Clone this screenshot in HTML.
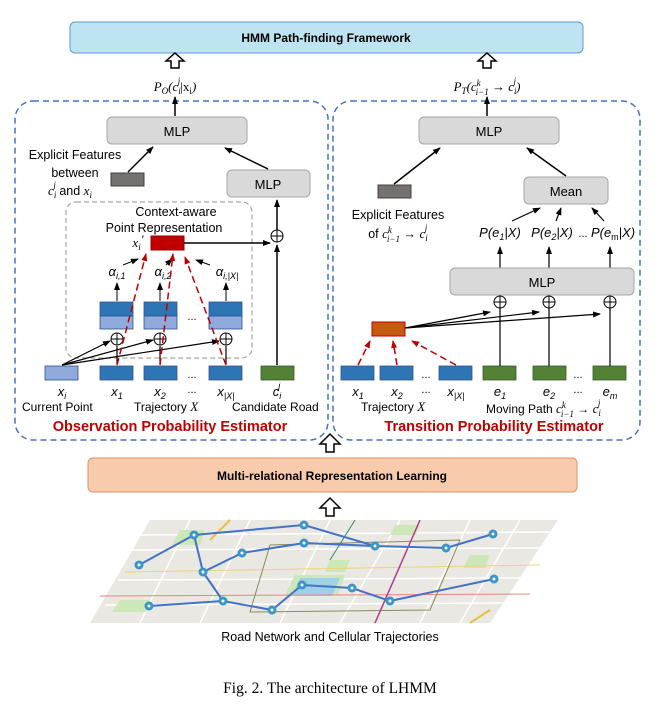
<!DOCTYPE html>
<html><head><meta charset="utf-8"><style>
body{margin:0;background:#fff;width:670px;height:709px;overflow:hidden}
svg{display:block}
text{font-family:"Liberation Sans",sans-serif}
.m{font-family:"Liberation Serif",serif;font-style:italic}
</style></head><body>
<svg width="670" height="709" viewBox="0 0 670 709" xmlns="http://www.w3.org/2000/svg">
<defs>
<marker id="a" markerWidth="8" markerHeight="8" refX="7" refY="4" orient="auto" markerUnits="userSpaceOnUse"><path d="M0,1 L8,4 L0,7 z" fill="#000"/></marker>
<marker id="r" markerWidth="8" markerHeight="8" refX="7" refY="4" orient="auto" markerUnits="userSpaceOnUse"><path d="M0,1 L8,4 L0,7 z" fill="#c00000"/></marker>
</defs>
<rect x="70" y="22" width="513" height="31" rx="5" fill="#bee3f1" stroke="#5b9bd5" stroke-width="1"/>
<text x="326" y="42" font-size="12" font-weight="bold" text-anchor="middle">HMM Path-finding Framework</text>
<g fill="#fff" stroke="#000" stroke-width="1.5">
<path d="M171,68 V61 H166 L175,53 L184,61 H179 V68 Z"/>
<path d="M483,68 V61 H478 L487,53 L496,61 H491 V68 Z"/>
<path d="M326,452 V444 H320 L330,434 L340,444 H334 V452 Z"/>
<path d="M326,516 V508 H320 L330,498 L340,508 H334 V516 Z"/>
</g>
<text x="175" y="91" font-size="13" text-anchor="middle" class="m">P<tspan font-size="9" dy="3">O</tspan><tspan dy="-3">(c</tspan><tspan font-size="9" dy="3">i</tspan><tspan font-size="9" dx="-3" dy="-10">j</tspan><tspan dy="7" font-style="normal">|x</tspan><tspan font-size="9" dy="3" font-style="normal">i</tspan><tspan dy="-3">)</tspan></text>
<text x="487" y="91" font-size="13" text-anchor="middle" class="m">P<tspan font-size="9" dy="3">T</tspan><tspan dy="-3">(c</tspan><tspan font-size="9" dy="-5">k</tspan><tspan font-size="9" dx="-5" dy="9">i−1</tspan><tspan dy="-4"> → c</tspan><tspan font-size="9" dy="3">i</tspan><tspan font-size="9" dx="-3" dy="-10">j</tspan><tspan dy="7">)</tspan></text>
<rect x="15" y="101" width="313" height="339" rx="18" fill="none" stroke="#4472c4" stroke-width="1.5" stroke-dasharray="6,4"/>
<rect x="333" y="101" width="307" height="339" rx="18" fill="none" stroke="#4472c4" stroke-width="1.5" stroke-dasharray="6,4"/>
<line x1="175" y1="116" x2="175" y2="97" stroke="#000" stroke-width="1.5" marker-end="url(#a)"/>
<line x1="487" y1="116" x2="487" y2="97" stroke="#000" stroke-width="1.5" marker-end="url(#a)"/>
<rect x="107" y="117" width="140" height="27" rx="5" fill="#d9d9d9" stroke="#a6a6a6"/>
<text x="177" y="136" font-size="13" text-anchor="middle">MLP</text>
<text x="75" y="159" font-size="12.5" text-anchor="middle">Explicit Features</text>
<text x="75" y="177" font-size="12.5" text-anchor="middle">between</text>
<text x="70" y="195" font-size="12.5" text-anchor="middle"><tspan class="m" font-size="13">c</tspan><tspan class="m" font-size="9" dy="3">i</tspan><tspan class="m" font-size="9" dx="-3" dy="-10">j</tspan><tspan dy="7"> and </tspan><tspan class="m" font-size="13">x</tspan><tspan class="m" font-size="9" dy="3">i</tspan></text>
<rect x="111" y="173" width="33" height="13" fill="#767171" stroke="#404040"/>
<line x1="128" y1="172" x2="153" y2="147" stroke="#000" stroke-width="1.5" marker-end="url(#a)"/>
<rect x="227" y="170" width="83" height="27" rx="5" fill="#d9d9d9" stroke="#a6a6a6"/>
<text x="268" y="189" font-size="13" text-anchor="middle">MLP</text>
<line x1="268" y1="169" x2="225" y2="148" stroke="#000" stroke-width="1.5" marker-end="url(#a)"/>
<rect x="66" y="202" width="186" height="156" rx="10" fill="none" stroke="#a6a6a6" stroke-width="1.2" stroke-dasharray="5,3"/>
<text x="176" y="216" font-size="12.5" text-anchor="middle">Context-aware</text>
<text x="164" y="232" font-size="12.5" text-anchor="middle">Point Representation</text>
<text x="138" y="247" font-size="13" class="m" text-anchor="middle">x<tspan font-size="9" dy="3">i</tspan><tspan dy="-6">′</tspan></text>
<rect x="151" y="236" width="33" height="14" fill="#c00000" stroke="#900"/>
<line x1="184" y1="243" x2="270" y2="243" stroke="#000" stroke-width="1.5" marker-end="url(#a)"/>
<g fill="#fff" stroke="#000" stroke-width="1">
<circle cx="277" cy="236" r="6"/><circle cx="117" cy="339" r="6"/><circle cx="160" cy="339" r="6"/><circle cx="226" cy="339" r="6"/>
<circle cx="500" cy="302" r="6"/><circle cx="549" cy="302" r="6"/><circle cx="610" cy="302" r="6"/>
</g>
<g stroke="#000" stroke-width="1">
<path d="M271,236h12M277,230v12M111,339h12M117,333v12M154,339h12M160,333v12M220,339h12M226,333v12"/>
<path d="M494,302h12M500,296v12M543,302h12M549,296v12M604,302h12M610,296v12"/>
</g>
<line x1="277" y1="365" x2="277" y2="245" stroke="#000" stroke-width="1.5" marker-end="url(#a)"/>
<line x1="277" y1="230" x2="277" y2="200" stroke="#000" stroke-width="1.5" marker-end="url(#a)"/>
<g font-size="13" class="m" text-anchor="middle">
<text x="117" y="276">α<tspan font-size="9" dy="3">i,1</tspan></text>
<text x="163" y="276">α<tspan font-size="9" dy="3">i,2</tspan></text>
<text x="227" y="276">α<tspan font-size="9" dy="3">i,|X|</tspan></text>
</g>
<g stroke="#000" stroke-width="1">
<line x1="123" y1="265" x2="138" y2="259" marker-end="url(#a)"/>
<line x1="166" y1="265" x2="172" y2="259" marker-end="url(#a)"/>
<line x1="210" y1="265" x2="196" y2="260" marker-end="url(#a)"/>
<line x1="117" y1="301" x2="117" y2="283" marker-end="url(#a)"/>
<line x1="160" y1="301" x2="160" y2="283" marker-end="url(#a)"/>
<line x1="226" y1="301" x2="226" y2="283" marker-end="url(#a)"/>
</g>
<g stroke="#2f528f" stroke-width="0.8">
<rect x="100" y="302" width="33" height="14" fill="#2e75b6"/><rect x="100" y="316" width="33" height="13" fill="#8faadc"/>
<rect x="144" y="302" width="33" height="14" fill="#2e75b6"/><rect x="144" y="316" width="33" height="13" fill="#8faadc"/>
<rect x="209" y="302" width="33" height="14" fill="#2e75b6"/><rect x="209" y="316" width="33" height="13" fill="#8faadc"/>
</g>
<text x="192" y="320" font-size="11" text-anchor="middle">...</text>
<g stroke="#000" stroke-width="1.2">
<line x1="117" y1="364" x2="117" y2="346"/><line x1="160" y1="364" x2="160" y2="346"/><line x1="226" y1="364" x2="226" y2="346"/>
<line x1="62" y1="365" x2="110" y2="341" marker-end="url(#a)"/>
<line x1="62" y1="365" x2="153" y2="340" marker-end="url(#a)"/>
<line x1="62" y1="365" x2="219" y2="341" marker-end="url(#a)"/>
</g>
<g stroke="#c00000" stroke-width="1.5" stroke-dasharray="7,4">
<line x1="117" y1="365" x2="146" y2="254" marker-end="url(#r)"/>
<line x1="160" y1="365" x2="173" y2="254" marker-end="url(#r)"/>
<line x1="226" y1="365" x2="185" y2="257" marker-end="url(#r)"/>
</g>
<rect x="45" y="366" width="33" height="14" fill="#8faadc" stroke="#2f528f" stroke-width="0.8"/>
<g fill="#2e75b6" stroke="#2f528f" stroke-width="0.8">
<rect x="100" y="366" width="33" height="14"/><rect x="144" y="366" width="33" height="14"/><rect x="209" y="366" width="33" height="14"/>
<rect x="341" y="366" width="33" height="14"/><rect x="380" y="366" width="33" height="14"/><rect x="439" y="366" width="33" height="14"/>
</g>
<g fill="#548235" stroke="#385723" stroke-width="0.8">
<rect x="261" y="366" width="33" height="14"/>
<rect x="483" y="366" width="33" height="14"/><rect x="533" y="366" width="33" height="14"/><rect x="593" y="366" width="33" height="14"/>
</g>
<text x="192" y="378" font-size="11" text-anchor="middle">...</text>
<g font-size="13" class="m" text-anchor="middle">
<text x="62" y="396">x<tspan font-size="9" dy="3">i</tspan></text>
<text x="117" y="396">x<tspan font-size="9" dy="3">1</tspan></text>
<text x="160" y="396">x<tspan font-size="9" dy="3">2</tspan></text>
<text x="192" y="393" font-style="normal" font-size="11">...</text>
<text x="226" y="396">x<tspan font-size="9" dy="3">|X|</tspan></text>
<text x="277" y="396">c<tspan font-size="9" dy="3">i</tspan><tspan font-size="9" dx="-3" dy="-10">j</tspan></text>
</g>
<g font-size="12">
<text x="22" y="411">Current Point</text>
<text x="134" y="411">Trajectory <tspan class="m" font-size="13">X</tspan></text>
<text x="232" y="411">Candidate Road</text>
</g>
<text x="170" y="431" font-size="14.5" font-weight="bold" fill="#c00000" text-anchor="middle">Observation Probability Estimator</text>
<rect x="419" y="117" width="140" height="27" rx="5" fill="#d9d9d9" stroke="#a6a6a6"/>
<text x="489" y="136" font-size="13" text-anchor="middle">MLP</text>
<rect x="378" y="185" width="33" height="13" fill="#767171" stroke="#404040"/>
<line x1="394" y1="184" x2="440" y2="148" stroke="#000" stroke-width="1.5" marker-end="url(#a)"/>
<rect x="524" y="177" width="84" height="27" rx="5" fill="#d9d9d9" stroke="#a6a6a6"/>
<text x="566" y="196" font-size="13" text-anchor="middle">Mean</text>
<line x1="566" y1="176" x2="527" y2="148" stroke="#000" stroke-width="1.5" marker-end="url(#a)"/>
<text x="398" y="219" font-size="12.5" text-anchor="middle">Explicit Features</text>
<text x="398" y="238" font-size="12.5" text-anchor="middle">of <tspan class="m" font-size="13">c</tspan><tspan class="m" font-size="9" dy="-5">k</tspan><tspan class="m" font-size="9" dx="-5" dy="9">i−1</tspan><tspan dy="-4"> → </tspan><tspan class="m" font-size="13">c</tspan><tspan class="m" font-size="9" dy="3">i</tspan><tspan class="m" font-size="9" dx="-3" dy="-10">j</tspan></text>
<g font-size="13" class="m" text-anchor="middle">
<text x="500" y="237">P(e<tspan font-size="9" dy="3">1</tspan><tspan dy="-3">|X)</tspan></text>
<text x="552" y="237">P(e<tspan font-size="9" dy="3">2</tspan><tspan dy="-3">|X)</tspan></text>
<text x="583" y="237" font-style="normal" font-size="11">...</text>
<text x="613" y="237">P(e<tspan font-size="9" dy="3" font-style="normal">m</tspan><tspan dy="-3">|X)</tspan></text>
</g>
<g stroke="#000" stroke-width="1.2">
<line x1="512" y1="221" x2="540" y2="208" marker-end="url(#a)"/>
<line x1="556" y1="221" x2="561" y2="208" marker-end="url(#a)"/>
<line x1="604" y1="221" x2="592" y2="208" marker-end="url(#a)"/>
<line x1="500" y1="268" x2="500" y2="247" marker-end="url(#a)"/>
<line x1="549" y1="268" x2="549" y2="247" marker-end="url(#a)"/>
<line x1="610" y1="268" x2="610" y2="247" marker-end="url(#a)"/>
</g>
<rect x="450" y="268" width="184" height="27" rx="5" fill="#d9d9d9" stroke="#a6a6a6"/>
<text x="542" y="287" font-size="13" text-anchor="middle">MLP</text>
<g stroke="#000" stroke-width="1.2">
<line x1="500" y1="366" x2="500" y2="308"/><line x1="549" y1="366" x2="549" y2="308"/><line x1="610" y1="366" x2="610" y2="308"/>
<line x1="405" y1="328" x2="490" y2="312" marker-end="url(#a)"/>
<line x1="405" y1="328" x2="539" y2="312" marker-end="url(#a)"/>
<line x1="405" y1="328" x2="600" y2="314" marker-end="url(#a)"/>
</g>
<rect x="372" y="322" width="33" height="14" fill="#c55a11" stroke="#c00000"/>
<g stroke="#c00000" stroke-width="1.5" stroke-dasharray="7,4">
<line x1="358" y1="365" x2="370" y2="341" marker-end="url(#r)"/>
<line x1="397" y1="365" x2="393" y2="341" marker-end="url(#r)"/>
<line x1="456" y1="365" x2="412" y2="341" marker-end="url(#r)"/>
</g>
<text x="426" y="378" font-size="11" text-anchor="middle">...</text>
<text x="578" y="378" font-size="11" text-anchor="middle">...</text>
<g font-size="13" class="m" text-anchor="middle">
<text x="358" y="396">x<tspan font-size="9" dy="3">1</tspan></text>
<text x="397" y="396">x<tspan font-size="9" dy="3">2</tspan></text>
<text x="426" y="393" font-style="normal" font-size="11">...</text>
<text x="456" y="396">x<tspan font-size="9" dy="3">|X|</tspan></text>
<text x="500" y="396">e<tspan font-size="9" dy="3">1</tspan></text>
<text x="549" y="396">e<tspan font-size="9" dy="3">2</tspan></text>
<text x="578" y="393" font-style="normal" font-size="11">...</text>
<text x="610" y="396">e<tspan font-size="9" dy="3">m</tspan></text>
</g>
<text x="361" y="411" font-size="12">Trajectory <tspan class="m" font-size="13">X</tspan></text>
<text x="486" y="413" font-size="12">Moving Path <tspan class="m" font-size="13">c</tspan><tspan class="m" font-size="9" dy="-5">k</tspan><tspan class="m" font-size="9" dx="-5" dy="9">i−1</tspan><tspan dy="-4"> → </tspan><tspan class="m" font-size="13">c</tspan><tspan class="m" font-size="9" dy="3">i</tspan><tspan class="m" font-size="9" dx="-3" dy="-10">j</tspan></text>
<text x="494" y="431" font-size="14.5" font-weight="bold" fill="#c00000" text-anchor="middle">Transition Probability Estimator</text>
<rect x="88" y="458" width="489" height="34" rx="5" fill="#f8cbad" stroke="#e0906a"/>
<text x="332" y="480" font-size="12" font-weight="bold" text-anchor="middle">Multi-relational Representation Learning</text>
<polygon points="150,520 558,520 490,623 90,623" fill="#e9e8e3"/>
<g stroke="#fff" stroke-width="1.5" fill="none">
<path d="M140,535 L550,532 M130,550 L540,548 M118,580 L520,578 M105,605 L505,603 M190,520 L140,623 M250,520 L200,623 M330,520 L280,623 M400,520 L340,623 M470,520 L420,623 M520,520 L460,623"/>
</g>
<g fill="#cde8b8">
<polygon points="180,530 205,530 200,545 172,545"/><polygon points="295,575 345,575 338,595 285,595"/><polygon points="330,560 350,560 345,572 325,572"/><polygon points="470,555 490,555 485,568 463,568"/><polygon points="120,600 150,600 146,612 112,612"/><polygon points="395,525 420,525 416,535 390,535"/>
</g>
<polygon points="300,578 340,578 332,596 292,596" fill="#9fd0ea"/>
<g fill="none" stroke-width="1">
<path d="M100,596 L530,594" stroke="#e88a7a"/>
<path d="M125,572 L540,565" stroke="#f0d27a"/>
<path d="M270,545 L460,540 L430,610 L250,612 Z" stroke="#8a8a5a"/>
<path d="M420,520 L375,623" stroke="#b03a8a" stroke-width="1.5"/>
<path d="M355,520 L330,560" stroke="#3a8a6a"/>
<path d="M230,520 L210,540 M490,610 L470,623" stroke="#e8c040" stroke-width="2"/>
</g>
<g fill="none" stroke="#4472c4" stroke-width="2">
<polyline points="139,565 194,535 304,525 375,546 446,548 493,534"/>
<polyline points="194,535 203,572 242,553 304,543 375,546"/>
<polyline points="203,572 223,601"/>
<polyline points="149,606 223,601 272,610 302,585 352,588 390,601 494,579"/>
</g>
<g fill="#3a95c8">
<circle cx="139" cy="565" r="4.5"/><circle cx="194" cy="535" r="4.5"/><circle cx="304" cy="525" r="4.5"/><circle cx="242" cy="553" r="4.5"/><circle cx="304" cy="543" r="4.5"/><circle cx="375" cy="546" r="4.5"/><circle cx="446" cy="548" r="4.5"/><circle cx="493" cy="534" r="4.5"/><circle cx="203" cy="572" r="4.5"/><circle cx="223" cy="601" r="4.5"/><circle cx="149" cy="606" r="4.5"/><circle cx="272" cy="610" r="4.5"/><circle cx="302" cy="585" r="4.5"/><circle cx="352" cy="588" r="4.5"/><circle cx="390" cy="601" r="4.5"/><circle cx="494" cy="579" r="4.5"/>
</g>
<g fill="#fff">
<circle cx="139" cy="565" r="1.5"/><circle cx="194" cy="535" r="1.5"/><circle cx="304" cy="525" r="1.5"/><circle cx="242" cy="553" r="1.5"/><circle cx="304" cy="543" r="1.5"/><circle cx="375" cy="546" r="1.5"/><circle cx="446" cy="548" r="1.5"/><circle cx="493" cy="534" r="1.5"/><circle cx="203" cy="572" r="1.5"/><circle cx="223" cy="601" r="1.5"/><circle cx="149" cy="606" r="1.5"/><circle cx="272" cy="610" r="1.5"/><circle cx="302" cy="585" r="1.5"/><circle cx="352" cy="588" r="1.5"/><circle cx="390" cy="601" r="1.5"/><circle cx="494" cy="579" r="1.5"/>
</g>
<text x="330" y="641" font-size="12.5" text-anchor="middle">Road Network and Cellular Trajectories</text>
<text x="330" y="693" font-size="15.5" text-anchor="middle" style="font-family:'Liberation Serif',serif">Fig. 2.  The architecture of LHMM</text>
</svg>
</body></html>
